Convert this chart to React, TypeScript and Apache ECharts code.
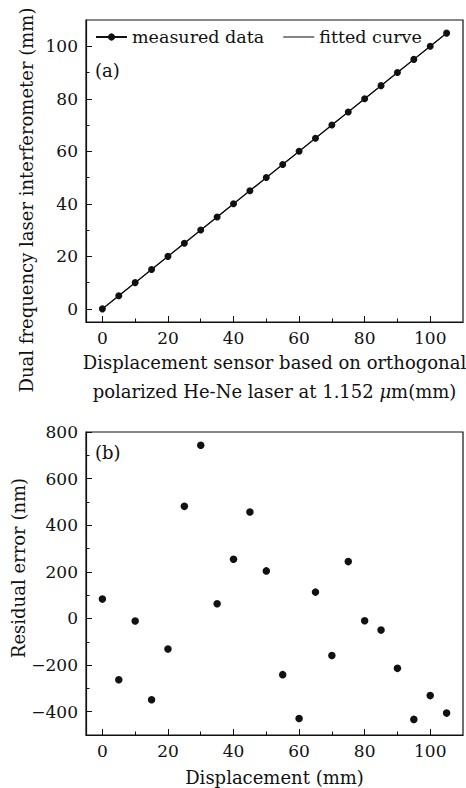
import React, { useEffect, useRef } from "react";
import * as echarts from "echarts";

// ---- data ----
const measuredX = [0, 5, 10, 15, 20, 25, 30, 35, 40, 45, 50, 55, 60, 65, 70, 75, 80, 85, 90, 95, 100, 105];
const measuredY = [0, 5, 10, 15, 20, 25, 30, 35, 40, 45, 50, 55, 60, 65, 70, 75, 80, 85, 90, 95, 100, 105];
const fittedX = [0, 105];
const fittedY = [0, 105];
const residuals = [83, -263, -11, -349, -131, 481, 743, 63, 254, 457, 204, -241, -429, 113, -159, 244, -10, -50, -214, -433, -331, -406];

const xMajor = [0, 20, 40, 60, 80, 100];
const xMinor = [10, 30, 50, 70, 90];
const topYMajor = [0, 20, 40, 60, 80, 100];
const topYMinor = [10, 30, 50, 70, 90];
const botYMajor = [-400, -200, 0, 200, 400, 600, 800];
const botYMinor = [-300, -100, 100, 300, 500, 700];

const FONT = "'DejaVu Serif', serif";
const INK = "#111111";

const GRID_W = 377;
const GRID_H_TOP = 302;
const GRID_H_BOT = 303;

export default function App() {
  const ref = useRef<HTMLDivElement>(null);
  useEffect(() => {
    if (!ref.current) return;
    const chart = echarts.init(ref.current, null, { renderer: "svg" });

    const labelStyle = { fontFamily: FONT, fontSize: 17, color: INK };
    const axisLine = { show: true, onZero: false, lineStyle: { color: INK, width: 1.2 } };
    const hiddenLine = { show: false, onZero: false };
    const fmt = (v: number) => String(v).replace("-", "\u2212");

    const mainX = (gridIndex: number, name: string, nameGap: number) => ({
      type: "value",
      gridIndex,
      min: -5,
      max: 110,
      position: "bottom",
      axisLine,
      splitLine: { show: false },
      axisTick: { show: true, inside: true, length: 6, customValues: xMajor, lineStyle: { color: INK, width: 1 } },
      axisLabel: { ...labelStyle, margin: 7, customValues: xMajor, formatter: fmt },
      name,
      nameLocation: "middle",
      nameGap,
      nameTextStyle: {
        fontFamily: FONT,
        fontSize: 18,
        color: INK,
        lineHeight: 29,
        rich: { it: { fontFamily: FONT, fontSize: 18, fontStyle: "italic", color: INK, lineHeight: 29 } },
      },
    });
    // minor-tick axis: placed at "top" then shifted down onto the bottom border
    const minorX = (gridIndex: number, h: number) => ({
      type: "value",
      gridIndex,
      min: -5,
      max: 110,
      position: "top",
      offset: -h,
      axisLine: hiddenLine,
      splitLine: { show: false },
      axisLabel: { show: false },
      axisTick: { show: true, inside: false, length: 3.5, customValues: xMinor, lineStyle: { color: INK, width: 1 } },
    });
    const mainY = (gridIndex: number, min: number, max: number, ticks: number[]) => ({
      type: "value",
      gridIndex,
      min,
      max,
      position: "left",
      axisLine,
      splitLine: { show: false },
      axisTick: { show: true, inside: true, length: 6, customValues: ticks, lineStyle: { color: INK, width: 1 } },
      axisLabel: { ...labelStyle, margin: 8, customValues: ticks, formatter: fmt },
    });
    // minor-tick axis: placed at "right" then shifted left onto the left border
    const minorY = (gridIndex: number, min: number, max: number, ticks: number[]) => ({
      type: "value",
      gridIndex,
      min,
      max,
      position: "right",
      offset: -GRID_W,
      axisLine: hiddenLine,
      splitLine: { show: false },
      axisLabel: { show: false },
      axisTick: { show: true, inside: false, length: 3.5, customValues: ticks, lineStyle: { color: INK, width: 1 } },
    });

    const option: any = {
      animation: false,
      backgroundColor: "#ffffff",
      grid: [
        { left: 86, top: 20, width: GRID_W, height: GRID_H_TOP, show: true, borderColor: INK, borderWidth: 1.2, backgroundColor: "transparent", outerBoundsMode: "none" },
        { left: 86, top: 432, width: GRID_W, height: GRID_H_BOT, show: true, borderColor: INK, borderWidth: 1.2, backgroundColor: "transparent", outerBoundsMode: "none" },
      ],
      legend: {
        left: 95,
        top: 27,
        padding: 0,
        itemWidth: 31,
        itemHeight: 9,
        itemGap: 19,
        itemTextGap: 2,
        textStyle: { fontFamily: FONT, fontSize: 17.5, color: INK, lineHeight: 20 },
        data: [
          { name: "measured data" },
          { name: "fitted curve", icon: "path://M0,0h30v1h-30z", itemStyle: { color: INK } },
        ],
      },
      xAxis: [
        mainX(0, "Displacement sensor based on orthogonal\npolarized He-Ne laser at 1.152 {it|\u03bc}m(mm)", 26),
        mainX(1, "Displacement (mm)", 28),
        minorX(0, GRID_H_TOP),
        minorX(1, GRID_H_BOT),
      ],
      yAxis: [
        mainY(0, -5, 110, topYMajor),
        mainY(1, -500, 800, botYMajor),
        minorY(0, -5, 110, topYMinor),
        minorY(1, -500, 800, botYMinor),
      ],
      graphic: [
        { type: "text", x: 95, y: 70, style: { text: "(a)", font: `18px ${FONT}`, fill: INK, textVerticalAlign: "middle" } },
        { type: "text", x: 95, y: 452, style: { text: "(b)", font: `18px ${FONT}`, fill: INK, textVerticalAlign: "middle" } },
        {
          type: "text",
          x: 26,
          y: 200,
          rotation: Math.PI / 2,
          style: { text: "Dual frequency laser interferometer (mm)", font: `18px ${FONT}`, fill: INK, textAlign: "center", textVerticalAlign: "middle" },
        },
        {
          type: "text",
          x: 18,
          y: 568,
          rotation: Math.PI / 2,
          style: { text: "Residual error (nm)", font: `18px ${FONT}`, fill: INK, textAlign: "center", textVerticalAlign: "middle" },
        },
      ],
      series: [
        {
          name: "fitted curve",
          type: "line",
          xAxisIndex: 0,
          yAxisIndex: 0,
          symbol: "none",
          lineStyle: { color: INK, width: 1.1 },
          itemStyle: { color: INK },
          data: fittedX.map((x, i) => [x, fittedY[i]]),
          z: 2,
        },
        {
          name: "measured data",
          type: "line",
          xAxisIndex: 0,
          yAxisIndex: 0,
          symbol: "circle",
          symbolSize: 7,
          showAllSymbol: true,
          lineStyle: { color: INK, width: 1.1 },
          itemStyle: { color: INK, borderWidth: 0, opacity: 1 },
          data: measuredX.map((x, i) => [x, measuredY[i]]),
          z: 3,
        },
        {
          name: "residual",
          type: "scatter",
          xAxisIndex: 1,
          yAxisIndex: 1,
          symbol: "circle",
          symbolSize: 7.5,
          itemStyle: { color: INK, opacity: 1 },
          data: measuredX.map((x, i) => [x, residuals[i]]),
        },
      ],
    };
    chart.setOption(option);
    return () => chart.dispose();
  }, []);
  return <div ref={ref} style={{ position: "fixed", left: 0, top: 0, width: 466, height: 788 }} />;
}
